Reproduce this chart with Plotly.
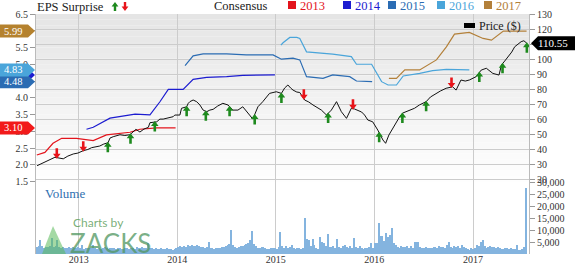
import numpy as np
import pandas as pd
import plotly.graph_objects as go

# ---------------- data ----------------
price_dates = ["2012-07-31","2012-08-21","2012-09-16","2012-10-05","2012-11-05","2012-11-22","2012-12-12","2012-12-29",
    "2013-01-18","2013-02-04","2013-02-18","2013-03-06","2013-03-20","2013-04-04","2013-04-20","2013-04-27","2013-05-09",
    "2013-06-03","2013-06-21","2013-07-10","2013-08-01","2013-08-16","2013-08-31","2013-09-16","2013-09-22","2013-10-17",
    "2013-10-29","2013-11-10","2013-11-28","2013-12-17","2013-12-23","2014-01-11","2014-01-17","2014-02-05","2014-02-11",
    "2014-02-17","2014-03-01","2014-03-14","2014-03-26","2014-04-07","2014-04-20","2014-05-02","2014-05-14","2014-05-31",
    "2014-06-19","2014-07-08","2014-07-26","2014-08-14","2014-09-01","2014-09-14","2014-09-26","2014-10-08","2014-10-18",
    "2014-10-27","2014-11-14","2014-11-28","2014-12-09","2015-01-03","2015-01-22","2015-02-03","2015-02-15","2015-02-25",
    "2015-03-06","2015-03-20","2015-03-31","2015-04-18","2015-05-03","2015-05-19","2015-06-02","2015-06-19","2015-07-08",
    "2015-07-26","2015-08-14","2015-09-01","2015-09-20","2015-10-08","2015-10-20","2015-11-01","2015-11-15","2015-11-26",
    "2015-12-08","2015-12-26","2016-01-14","2016-02-02","2016-02-12","2016-02-24","2016-03-05","2016-03-16","2016-04-04",
    "2016-04-15","2016-04-29","2016-05-11","2016-05-29","2016-06-16","2016-07-11","2016-07-27","2016-08-17","2016-09-02",
    "2016-09-23","2016-10-17","2016-10-30","2016-11-17","2016-12-03","2016-12-18","2017-01-12","2017-01-31","2017-02-19",
    "2017-03-03","2017-03-15","2017-04-07","2017-04-16","2017-04-28","2017-05-10","2017-05-24","2017-06-04","2017-06-15",
    "2017-06-28","2017-07-08","2017-07-19"]
price_values = [29.1,30.9,32.9,34.7,33.7,35.5,36.9,37.5,
    39.1,39.9,41.1,41.5,42.2,43.5,44.4,47.5,48.4,
    49.7,49.2,49.7,53.3,51.5,53.5,54.6,57.7,58.3,
    60.1,60.1,60.8,61.7,62.8,62.8,67.3,68.3,70.6,
    71.7,72.8,71.7,69.5,66.1,65.0,66.1,66.6,68.8,
    70.6,69.5,66.1,66.1,68.3,65.0,62.8,60.1,64.1,
    68.3,71.7,74.8,77.2,78.3,77.2,80.8,82.8,80.8,
    79.4,78.1,77.8,72.8,71.5,69.5,68.1,66.1,62.8,
    66.1,71.7,65.0,60.6,67.3,66.8,66.1,64.8,62.8,
    59.5,58.3,52.8,46.2,44.0,49.5,52.8,56.2,61.7,
    64.1,65.0,66.1,67.3,69.5,71.7,74.8,77.2,78.8,
    80.6,81.6,79.4,86.1,85.4,86.1,88.3,92.7,93.9,
    92.1,90.5,89.4,96.1,98.7,101.6,104.7,108.2,110.0,
    111.6,112.2,110.55]

c2013_dates = ["2012-07-30","2012-08-29","2012-09-28","2012-10-30","2012-12-24","2013-02-24","2013-04-14",
    "2013-06-03","2013-07-10","2013-08-16","2013-10-17","2013-12-26"]
c2013_eps = [2.29,2.37,2.64,2.79,2.79,2.72,2.89,2.94,2.97,3.06,3.10,3.10]

c2014_dates = ["2013-01-30","2013-02-24","2013-04-27","2013-06-03","2013-07-29","2013-09-22","2013-10-29",
    "2013-11-29","2014-01-23","2014-03-01","2014-04-20","2014-07-03","2014-09-01","2014-12-29"]
c2014_eps = [3.06,3.12,3.39,3.43,3.51,3.49,3.88,4.25,4.25,4.55,4.61,4.63,4.67,4.68]

c2015_dates = ["2014-01-30","2014-03-01","2014-04-07","2014-07-03","2014-09-14","2014-12-22","2015-01-22",
    "2015-03-06","2015-03-31","2015-04-25","2015-06-25","2015-07-31","2015-10-02","2015-10-27","2015-12-24"]
c2015_eps = [4.96,5.25,5.31,5.31,5.28,5.28,5.15,5.18,5.13,4.63,4.58,4.68,4.63,4.50,4.48]

c2016_dates = ["2015-01-20","2015-01-28","2015-02-22","2015-03-20","2015-03-31","2015-04-25","2015-07-31",
    "2015-10-08","2015-10-27","2015-12-22","2016-01-28","2016-02-21","2016-03-23","2016-04-17","2016-06-17",
    "2016-08-04","2016-09-24","2016-12-18"]
c2016_eps = [5.57,5.64,5.80,5.80,5.77,5.37,5.30,5.23,5.00,5.00,4.48,4.38,4.38,4.65,4.73,4.81,4.85,4.83]

c2017_dates = ["2016-02-24","2016-03-23","2016-04-23","2016-06-17","2016-08-18","2016-09-24","2016-10-24",
    "2016-12-18","2017-02-07","2017-03-10","2017-04-23","2017-07-18"]
c2017_eps = [4.58,4.58,4.83,4.83,5.13,5.52,5.90,5.95,5.77,5.72,5.99,5.99]

surprise_dates = ["2012-10-12","2013-01-18","2013-04-19","2013-07-12","2013-10-10","2014-02-05","2014-04-17",
    "2014-07-14","2014-10-15","2015-01-22","2015-04-15","2015-07-14","2015-10-14","2016-01-19","2016-04-14",
    "2016-07-11","2016-10-13","2017-01-24","2017-04-20","2017-07-19"]
surprise_dir = ["down","down","up","up","up","up","up","up","up","up","down","up","down","up","up","up","down",
    "up","up","up"]

volume_start = "2012-07-30"
volume = [2800,3500,5800,3200,2600,3000,2900,3400,6700,3100,
    3300,5800,2900,2500,3100,2700,2400,3000,2600,2800,
    2300,2500,2900,2400,3600,2200,2500,2700,2300,2600,
    3800,2400,2200,2600,2000,2400,2800,2300,2100,2500,
    2700,2300,2000,2400,2600,2200,2000,2300,2500,2100,
    2400,2600,2200,2800,2300,2500,3000,2400,2700,4400,
    2600,2300,2100,2500,2000,2200,2400,1900,2100,2300,
    2000,2200,1800,2000,2400,3000,3300,2800,3200,3100,
    3600,3400,3800,3500,3300,3700,3400,3000,2800,2600,
    3000,5100,2700,2400,2200,2500,2300,2600,3000,2800,
    3200,3600,4200,10000,3800,3000,2600,2800,3200,3500,
    3800,4300,4600,6000,9700,4100,3300,2600,2400,2800,
    3100,2500,2200,2000,2500,2300,2600,2200,2800,9300,
    3400,2700,3200,2300,2800,3600,2300,2100,2500,2400,
    2200,2600,15000,6100,6000,3200,6100,3700,2600,2200,
    7200,5000,4600,3300,8300,3000,2800,3300,2600,6100,
    3100,2700,3300,3700,2900,2500,3400,2700,6500,2800,
    2400,3300,2600,2100,2700,2300,2900,4400,2600,4500,
    4500,13000,7500,7600,5500,8600,7200,7800,10800,4500,
    3600,3000,2600,3300,2800,3100,3500,2700,3200,2400,
    5000,4800,5100,2900,2600,2400,3000,2700,2300,2600,
    2800,3100,2700,3300,2900,3100,2500,3600,4800,3000,
    2700,3200,2900,3400,2600,3700,2800,2400,2100,1600,
    2300,1900,2600,3700,3500,5000,5800,3200,2700,3000,
    3400,2800,3100,2600,2900,2400,2200,2000,2300,2600,
    2100,2400,1900,2200,3700,1800,1700,2100,3000,27500]

eps_ticks = [1.5, 2.0, 2.5, 3.0, 3.5, 4.0, 4.5, 5.0, 5.5, 6.0, 6.5]
price_ticks = [20, 30, 40, 50, 60, 70, 80, 90, 100, 110, 120, 130]
volume_ticks = [5000, 10000, 15000, 20000, 25000, 30000]
years = ["2013", "2014", "2015", "2016", "2017"]

# ---------------- layout helpers ----------------
W, H = 575, 264
L, R, T, B = 36, 46, 14, 10
PW, PH = W - L - R, H - T - B


def fx(px):
    return (px - L) / PW


def fy(py):
    return (H - B - py) / PH


price_dom = [fy(181.5), 1.0]
vol_dom = [0.0, fy(182)]

SERIF = "Liberation Serif"
colors = {"2013": "#e3141c", "2014": "#1c1cd0", "2015": "#2b6cb3", "2016": "#4aa5da", "2017": "#b3803a"}
box_colors = {"2013": "#f21a1a", "2014": "#1c1cd0", "2015": "#2b6cb3", "2016": "#4aa5da", "2017": "#b5822e"}

series = {
    "2013": (c2013_dates, c2013_eps),
    "2014": (c2014_dates, c2014_eps),
    "2015": (c2015_dates, c2015_eps),
    "2016": (c2016_dates, c2016_eps),
    "2017": (c2017_dates, c2017_eps),
}

fig = go.Figure()

vol_dates = pd.date_range(volume_start, periods=len(volume), freq="7D")
fig.add_trace(go.Bar(x=vol_dates, y=volume, xaxis="x", yaxis="y3",
                     marker=dict(color="#84b4df", line=dict(width=0)),
                     width=5 * 86400000, showlegend=False))

for yr, (d, v) in series.items():
    fig.add_trace(go.Scatter(x=d, y=v, mode="lines", xaxis="x", yaxis="y",
                             line=dict(color=colors[yr], width=1.2), showlegend=False))

fig.add_trace(go.Scatter(x=price_dates, y=price_values, mode="lines", xaxis="x", yaxis="y2",
                         line=dict(color="#111111", width=1), showlegend=False))

shapes = []
annotations = []

# background gradient in price area
nb = 30
top_px, bot_px = 14, 181.5
for k in range(nb):
    y0 = top_px + (bot_px - top_px) * k / nb
    y1 = top_px + (bot_px - top_px) * (k + 1) / nb
    c = int(229 + (255 - 229) * (k + 0.5) / nb)
    shapes.append(dict(type="rect", xref="paper", yref="paper", x0=0, x1=1, y0=fy(y1), y1=fy(y0),
                       fillcolor=f"rgb({c},{c},{c})", line=dict(width=0), layer="below"))

# surprise arrows
pd_num = pd.to_datetime(pd.Series(price_dates)).astype("int64").to_numpy().astype(float)
sd_num = pd.to_datetime(pd.Series(surprise_dates)).astype("int64").to_numpy().astype(float)
s_price = np.interp(sd_num, pd_num, np.array(price_values))
green_path = "M 0,1 L 3.8,-4 L 1.3,-4 L 1.3,-9.5 L -1.3,-9.5 L -1.3,-4 L -3.8,-4 Z"
red_path = "M 0,-1 L 3.8,4 L 1.3,4 L 1.3,9.5 L -1.3,9.5 L -1.3,4 L -3.8,4 Z"
for d, p, s in zip(surprise_dates, s_price, surprise_dir):
    up = s == "up"
    col = "#1e8a1e" if up else "#e8141a"
    shapes.append(dict(type="path", xref="x", yref="y2", xsizemode="pixel", ysizemode="pixel",
                       xanchor=d, yanchor=float(p), path=green_path if up else red_path,
                       fillcolor=col, line=dict(width=0), layer="above"))

# EPS value boxes on the left
eps_box = "M -36,-6.5 L -8,-6.5 L -1,0 L -8,6.5 L -36,6.5 Z"
for yr in ["2013", "2014", "2015", "2016", "2017"]:
    val = series[yr][1][-1]
    shapes.append(dict(type="path", xref="paper", yref="y", xsizemode="pixel", ysizemode="pixel",
                       xanchor=0, yanchor=val, path=eps_box, fillcolor=box_colors[yr],
                       line=dict(width=0), layer="above"))
    if yr != "2014":
        annotations.append(dict(xref="paper", yref="y", x=0, y=val, xshift=-23, text=f"{val:.2f}",
                                showarrow=False, xanchor="center", yanchor="middle",
                                font=dict(family=SERIF, size=10.5, color="white")))

# Price box on right
last_price = price_values[-1]
shapes.append(dict(type="path", xref="paper", yref="y2", xsizemode="pixel", ysizemode="pixel",
                   xanchor=1, yanchor=last_price, path="M 2,0 L 9,-7 L 46,-7 L 46,7 L 9,7 Z",
                   fillcolor="#000000", line=dict(width=0), layer="above"))
annotations.append(dict(xref="paper", yref="y2", x=1, y=last_price, xshift=24, text=f"{last_price:.2f}",
                        showarrow=False, xanchor="center", yanchor="middle",
                        font=dict(family=SERIF, size=11, color="white")))

# Top legend
annotations.append(dict(xref="paper", yref="paper", x=fx(35), y=fy(6.5), text="EPS Surprise", showarrow=False,
                        xanchor="left", yanchor="middle", font=dict(family=SERIF, size=12.5, color="#222")))
leg_up = "M 0,4.5 L 3.4,0 L 1.2,0 L 1.2,-4.5 L -1.2,-4.5 L -1.2,0 L -3.4,0 Z"
leg_dn = "M 0,-4.5 L 3.4,0 L 1.2,0 L 1.2,4.5 L -1.2,4.5 L -1.2,0 L -3.4,0 Z"
shapes.append(dict(type="path", xref="paper", yref="paper", xsizemode="pixel", ysizemode="pixel",
                   xanchor=fx(115), yanchor=fy(6.5), path=leg_up, fillcolor="#1e8a1e", line=dict(width=0)))
shapes.append(dict(type="path", xref="paper", yref="paper", xsizemode="pixel", ysizemode="pixel",
                   xanchor=fx(125), yanchor=fy(6.5), path=leg_dn, fillcolor="#e8141a", line=dict(width=0)))
annotations.append(dict(xref="paper", yref="paper", x=fx(212), y=fy(5.5), text="Consensus", showarrow=False,
                        xanchor="left", yanchor="middle", font=dict(family=SERIF, size=12.5, color="#222")))
leg_sq_x = {"2013": 288, "2014": 343, "2015": 388, "2016": 437, "2017": 484}
for yr, sx in leg_sq_x.items():
    shapes.append(dict(type="rect", xref="paper", yref="paper", x0=fx(sx), x1=fx(sx + 8),
                       y0=fy(9), y1=fy(1), fillcolor=colors[yr], line=dict(width=0)))
    annotations.append(dict(xref="paper", yref="paper", x=fx(sx + 10), y=fy(5.5), text=yr, showarrow=False,
                            xanchor="left", yanchor="middle", font=dict(family=SERIF, size=12.5, color=colors[yr])))

# Price legend
shapes.append(dict(type="rect", xref="paper", yref="paper", x0=fx(464), x1=fx(475), y0=fy(28), y1=fy(23),
                   fillcolor="#000", line=dict(width=0)))
annotations.append(dict(xref="paper", yref="paper", x=fx(477), y=fy(25.5), text="Price ($)", showarrow=False,
                        xanchor="left", yanchor="middle", font=dict(family=SERIF, size=12, color="#222")))

# Volume label
annotations.append(dict(xref="paper", yref="paper", x=fx(43), y=fy(193), text="Volume", showarrow=False,
                        xanchor="left", yanchor="middle", font=dict(family=SERIF, size=13, color="#2f6fb0")))

# Watermark
shapes.append(dict(type="path", xref="paper", yref="paper",
                   path=f"M {fx(53)},{fy(226)} L {fx(66)},{fy(254)} L {fx(42)},{fy(254)} Z",
                   fillcolor="rgba(90,185,90,0.55)", line=dict(width=0)))
annotations.append(dict(xref="paper", yref="paper", x=fx(71), y=fy(222), text="Charts by", showarrow=False,
                        xanchor="left", yanchor="middle", font=dict(family="Lato", size=12, color="rgba(95,160,95,0.85)")))
annotations.append(dict(xref="paper", yref="paper", x=fx(68), y=fy(243), text="ZACKS", showarrow=False,
                        xanchor="left", yanchor="middle", font=dict(family="Lato", size=26, color="rgba(80,150,95,0.75)")))

tickfont = dict(family=SERIF, size=10, color="#333")
fig.update_layout(
    width=W, height=H, margin=dict(l=L, r=R, t=T, b=B, autoexpand=False),
    paper_bgcolor="white", plot_bgcolor="rgba(0,0,0,0)",
    showlegend=False, bargap=0,
    xaxis=dict(type="date", range=["2012-07-27", "2017-07-27"], anchor="y3", domain=[0, 1], automargin=False,
               showgrid=True, gridcolor="#cccccc", gridwidth=1, zeroline=False, showline=False,
               tickvals=[f"{y}-01-01" for y in years], ticktext=years, ticks="", tickfont=tickfont,
               ticklabelstandoff=-2),
    yaxis=dict(domain=price_dom, range=[1.5, 6.5], tickvals=eps_ticks, ticktext=[f"{t:.1f}" for t in eps_ticks],
               side="left", showgrid=False, zeroline=False, ticks="outside", ticklen=5, tickcolor="#999",
               showline=True, linecolor="#bbbbbb", tickfont=tickfont, anchor="x", automargin=False),
    yaxis2=dict(overlaying="y", side="right", range=[18.6, 130], tickvals=price_ticks,
                ticktext=[str(t) for t in price_ticks], showgrid=True, gridcolor="#cccccc", zeroline=False,
                ticks="outside", ticklen=5, tickcolor="#999", showline=True, linecolor="#bbbbbb",
                tickfont=tickfont, anchor="x", automargin=False),
    yaxis3=dict(domain=vol_dom, range=[0, 30000], tickvals=volume_ticks,
                ticktext=[f"{t:,}" for t in volume_ticks], side="right", showgrid=False, zeroline=False,
                ticks="outside", ticklen=5, tickcolor="#999", showline=True, mirror=True, linecolor="#bbbbbb",
                tickfont=tickfont, anchor="x", automargin=False),
    shapes=shapes, annotations=annotations,
)

fig.write_html("out.html")
